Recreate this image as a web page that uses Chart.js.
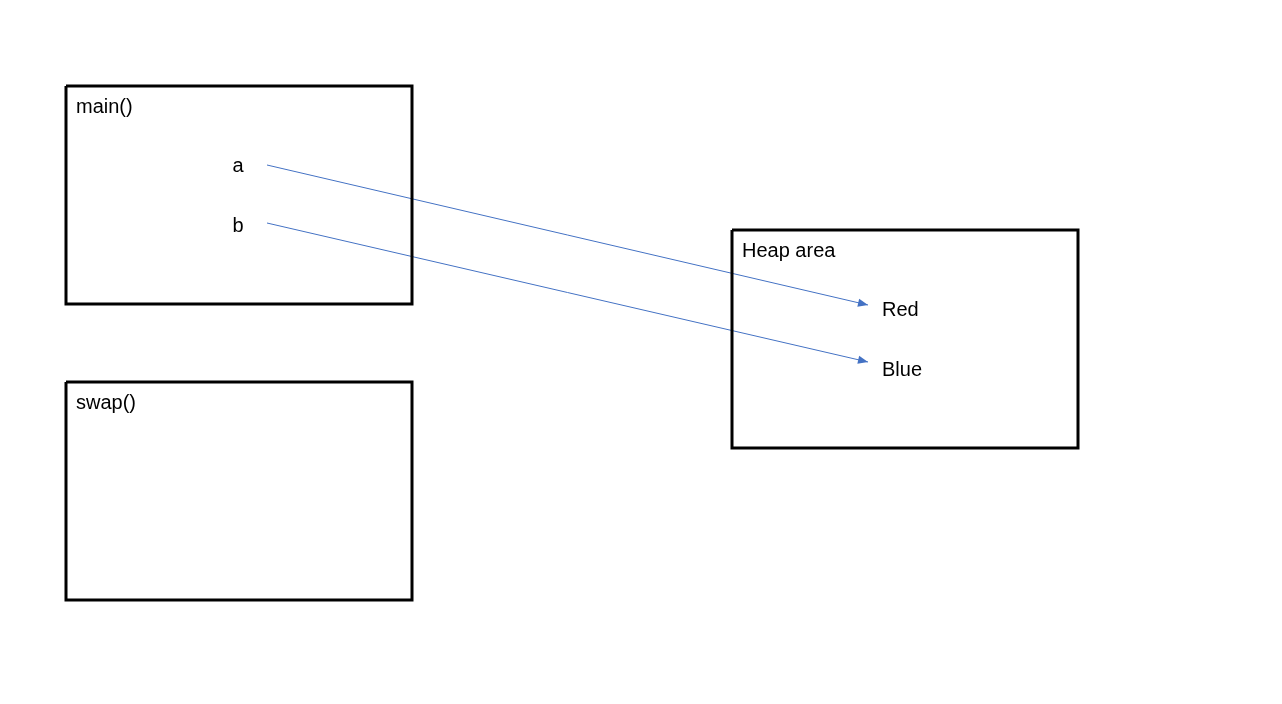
<!DOCTYPE html>
<html><head><meta charset="utf-8">
<script src="https://cdn.jsdelivr.net/npm/chart.js@4"></script>
<style>html,body{margin:0;padding:0;background:#fff}#w{width:1282px;height:704px}</style>
</head><body><div id="w"><canvas id="c"></canvas></div>
<script>
// Boxes: [left, top, right, bottom] in diagram units
const boxNames = ["main()", "swap()", "Heap area"];
const boxLeft = [66, 66, 732];
const boxTop = [86, 382, 230];
const boxRight = [412, 412, 1078];
const boxBottom = [304, 600, 448];
// Variable / value labels
const labelTexts = ["a", "b", "Red", "Blue"];
const labelX = [238, 238, 882, 882];
const labelY = [166, 226, 310, 370];
// Arrows (reference from variable to heap object)
const arrowFromX = [267, 267];
const arrowFromY = [165, 223];
const arrowToX = [868, 868];
const arrowToY = [305, 362];

const datasets = [];
for (let i = 0; i < boxNames.length; i++) {
  datasets.push({
    data: [
      {x: boxLeft[i], y: boxTop[i]}, {x: boxRight[i], y: boxTop[i]},
      {x: boxRight[i], y: boxBottom[i]}, {x: boxLeft[i], y: boxBottom[i]},
      {x: boxLeft[i], y: boxTop[i]}
    ],
    showLine: true, borderColor: '#000', borderWidth: 3, pointRadius: 0,
    borderJoinStyle: 'miter', tension: 0
  });
}
for (let i = 0; i < arrowFromX.length; i++) {
  datasets.push({
    data: [{x: arrowFromX[i], y: arrowFromY[i]}, {x: arrowToX[i], y: arrowToY[i]}],
    showLine: true, borderColor: '#4472C4', borderWidth: 1, pointRadius: 0, arrow: true
  });
}

const textPlugin = {
  id: 'texts',
  afterDatasetsDraw(chart) {
    const ctx = chart.ctx, xs = chart.scales.x, ys = chart.scales.y;
    ctx.save();
    ctx.fillStyle = '#000';
    ctx.font = '20px "Liberation Sans", Arial, sans-serif';
    ctx.textBaseline = 'middle';
    ctx.textAlign = 'left';
    for (let i = 0; i < boxNames.length; i++) {
      ctx.fillText(boxNames[i], xs.getPixelForValue(boxLeft[i] + 10), ys.getPixelForValue(boxTop[i] + 21));
    }
    for (let i = 0; i < labelTexts.length; i++) {
      ctx.textAlign = i < 2 ? 'center' : 'left';
      ctx.fillText(labelTexts[i], xs.getPixelForValue(labelX[i]), ys.getPixelForValue(labelY[i]));
    }
    // arrowheads
    ctx.fillStyle = '#4472C4';
    for (let i = 0; i < arrowFromX.length; i++) {
      const x1 = xs.getPixelForValue(arrowFromX[i]), y1 = ys.getPixelForValue(arrowFromY[i]);
      const x2 = xs.getPixelForValue(arrowToX[i]), y2 = ys.getPixelForValue(arrowToY[i]);
      const a = Math.atan2(y2 - y1, x2 - x1), L = 10, W = 4;
      ctx.beginPath();
      ctx.moveTo(x2, y2);
      ctx.lineTo(x2 - L * Math.cos(a) + W * Math.sin(a), y2 - L * Math.sin(a) - W * Math.cos(a));
      ctx.lineTo(x2 - L * Math.cos(a) - W * Math.sin(a), y2 - L * Math.sin(a) + W * Math.cos(a));
      ctx.closePath();
      ctx.fill();
    }
    ctx.restore();
  }
};

new Chart(document.getElementById('c'), {
  type: 'scatter',
  data: {datasets},
  options: {
    responsive: true, maintainAspectRatio: false, animation: false,
    layout: {padding: 0},
    plugins: {legend: {display: false}, tooltip: {enabled: false}},
    scales: {
      x: {type: 'linear', min: 0, max: 1282, display: false},
      y: {type: 'linear', min: 0, max: 704, reverse: true, display: false}
    }
  },
  plugins: [textPlugin]
});
</script></body></html>
